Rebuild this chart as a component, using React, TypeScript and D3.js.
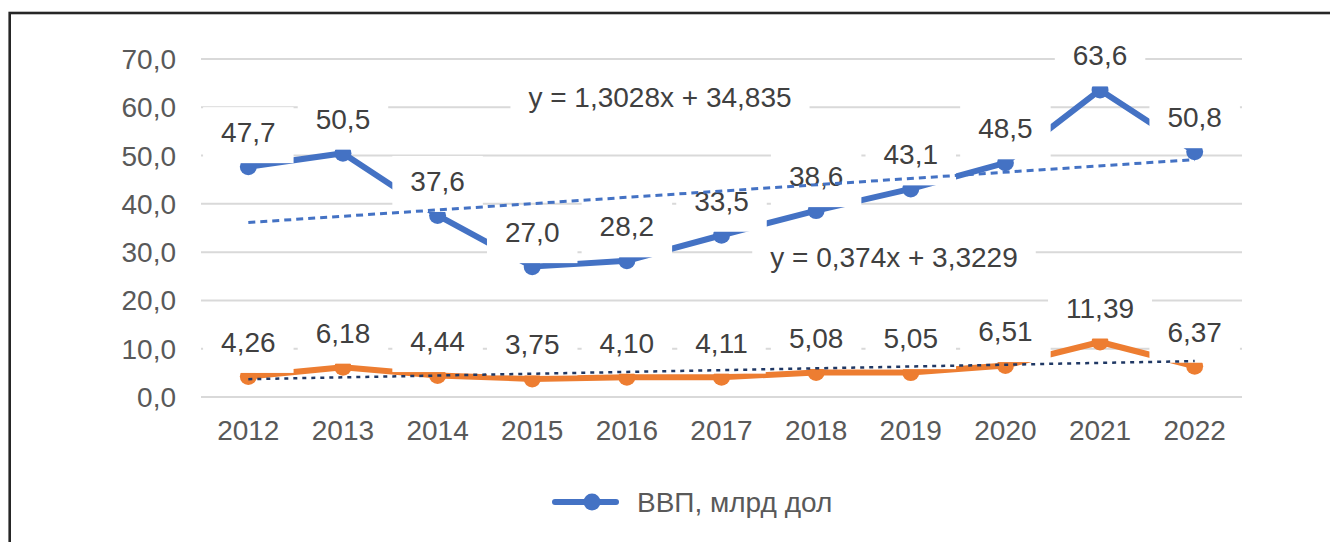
import React from 'react';
import * as d3 from 'd3';

const years = ['2012', '2013', '2014', '2015', '2016', '2017', '2018', '2019', '2020', '2021', '2022'];
const gdpValues = [47.7, 50.5, 37.6, 27.0, 28.2, 33.5, 38.6, 43.1, 48.5, 63.6, 50.8];
const secondValues = [4.26, 6.18, 4.44, 3.75, 4.1, 4.11, 5.08, 5.05, 6.51, 11.39, 6.37];
const yTicks = [0, 10, 20, 30, 40, 50, 60, 70];
const gdpTrendSlope = 1.3028;
const gdpTrendIntercept = 34.835;
const secondTrendSlope = 0.374;
const secondTrendIntercept = 3.3229;
const gdpEquation = 'y = 1,3028x + 34,835';
const secondEquation = 'y = 0,374x + 3,3229';
const legendLabel = 'ВВП, млрд дол';

const W = 1330;
const H = 542;
const FONT = '"Liberation Sans", Arial, sans-serif';
const FS = 28;
const BLUE = '#4472C4';
const ORANGE = '#ED7D31';
const NAVY = '#203864';
const GRID = '#D9D9D9';
const LABEL = '#404040';
const AXIS = '#595959';

let ctx: CanvasRenderingContext2D | null = null;
function textWidth(s: string): number {
  if (!ctx && typeof document !== 'undefined') {
    ctx = document.createElement('canvas').getContext('2d');
  }
  if (!ctx) return s.length * FS * 0.55;
  ctx.font = `${FS}px "Liberation Sans", Arial, sans-serif`;
  return ctx.measureText(s).width;
}

const fmt1 = (v: number) => d3.format('.1f')(v).replace('.', ',');
const fmt2 = (v: number) => d3.format('.2f')(v).replace('.', ',');

export default function App() {
  const x = d3.scalePoint<string>().domain(years).range([201, 1242]).padding(0.5);
  const y = d3.scaleLinear().domain([0, 70]).range([397, 59]);

  const line = d3
    .line<number>()
    .x((_, i) => x(years[i]) as number)
    .y((d) => y(d));

  const trend = (slope: number, intercept: number) => {
    const xs = [0, years.length - 1];
    return xs.map((i) => [x(years[i]) as number, y(slope * (i + 1) + intercept)] as [number, number]);
  };
  const gdpTrend = trend(gdpTrendSlope, gdpTrendIntercept);
  const secondTrend = trend(secondTrendSlope, secondTrendIntercept);

  const labelBox = (cx: number, cy: number, text: string, key: string) => {
    const tw = textWidth(text);
    return (
      <g key={key}>
        <rect x={cx - tw / 2 - 18} y={cy - 25} width={tw + 36} height={56} fill="#fff" />
        <text x={cx} y={cy + 10} textAnchor="middle" fill={LABEL} fontSize={FS} fontFamily={FONT}>
          {text}
        </text>
      </g>
    );
  };

  return (
    <svg width={W} height={H} style={{ position: 'absolute', left: 0, top: 0, background: '#fff' }}>
      <rect x={0} y={0} width={W} height={H} fill="#fff" />
      <rect x={9.7} y={13} width={W + 50} height={H + 50} fill="none" stroke="#262626" strokeWidth={2.6} />
      {/* gridlines */}
      {yTicks.map((t) => (
        <line key={t} x1={201} x2={1242} y1={y(t)} y2={y(t)} stroke={GRID} strokeWidth={2} />
      ))}
      {/* y tick labels */}
      {yTicks.map((t) => (
        <text key={'yt' + t} x={176} y={y(t) + 10} textAnchor="end" fill={AXIS} fontSize={FS} fontFamily={FONT}>
          {fmt1(t)}
        </text>
      ))}
      {/* x tick labels */}
      {years.map((yr) => (
        <text key={'xt' + yr} x={x(yr) as number} y={440} textAnchor="middle" fill={AXIS} fontSize={FS} fontFamily={FONT}>
          {yr}
        </text>
      ))}
      {/* series */}
      <path d={line(gdpValues) || ''} fill="none" stroke={BLUE} strokeWidth={6} strokeLinejoin="round" />
      {gdpValues.map((v, i) => (
        <circle key={'gm' + i} cx={x(years[i]) as number} cy={y(v)} r={8.5} fill={BLUE} />
      ))}
      <path d={line(secondValues) || ''} fill="none" stroke={ORANGE} strokeWidth={6} strokeLinejoin="round" />
      {secondValues.map((v, i) => (
        <circle key={'om' + i} cx={x(years[i]) as number} cy={y(v)} r={8.5} fill={ORANGE} />
      ))}
      {/* data labels */}
      {gdpValues.map((v, i) => labelBox(x(years[i]) as number, y(v) - 34.5, fmt1(v), 'gl' + i))}
      {secondValues.map((v, i) => labelBox(x(years[i]) as number, y(v) - 34.5, fmt2(v), 'ol' + i))}
      {/* trendlines */}
      <line
        x1={gdpTrend[0][0]}
        y1={gdpTrend[0][1]}
        x2={gdpTrend[1][0]}
        y2={gdpTrend[1][1]}
        stroke={BLUE}
        strokeWidth={3}
        strokeDasharray="7 5"
      />
      <line
        x1={secondTrend[0][0]}
        y1={secondTrend[0][1]}
        x2={secondTrend[1][0]}
        y2={secondTrend[1][1]}
        stroke={NAVY}
        strokeWidth={2.5}
        strokeDasharray="4 5"
      />
      {/* equations */}
      {labelBox(660, 97, gdpEquation, 'eq1')}
      {labelBox(894, 257, secondEquation, 'eq2')}
      {/* legend */}
      <line x1={555} x2={616} y1={502} y2={502} stroke={BLUE} strokeWidth={6} strokeLinecap="round" />
      <circle cx={592} cy={502} r={8.5} fill={BLUE} />
      <text x={637} y={512} fill={AXIS} fontSize={FS} fontFamily={FONT}>
        {legendLabel}
      </text>
    </svg>
  );
}
